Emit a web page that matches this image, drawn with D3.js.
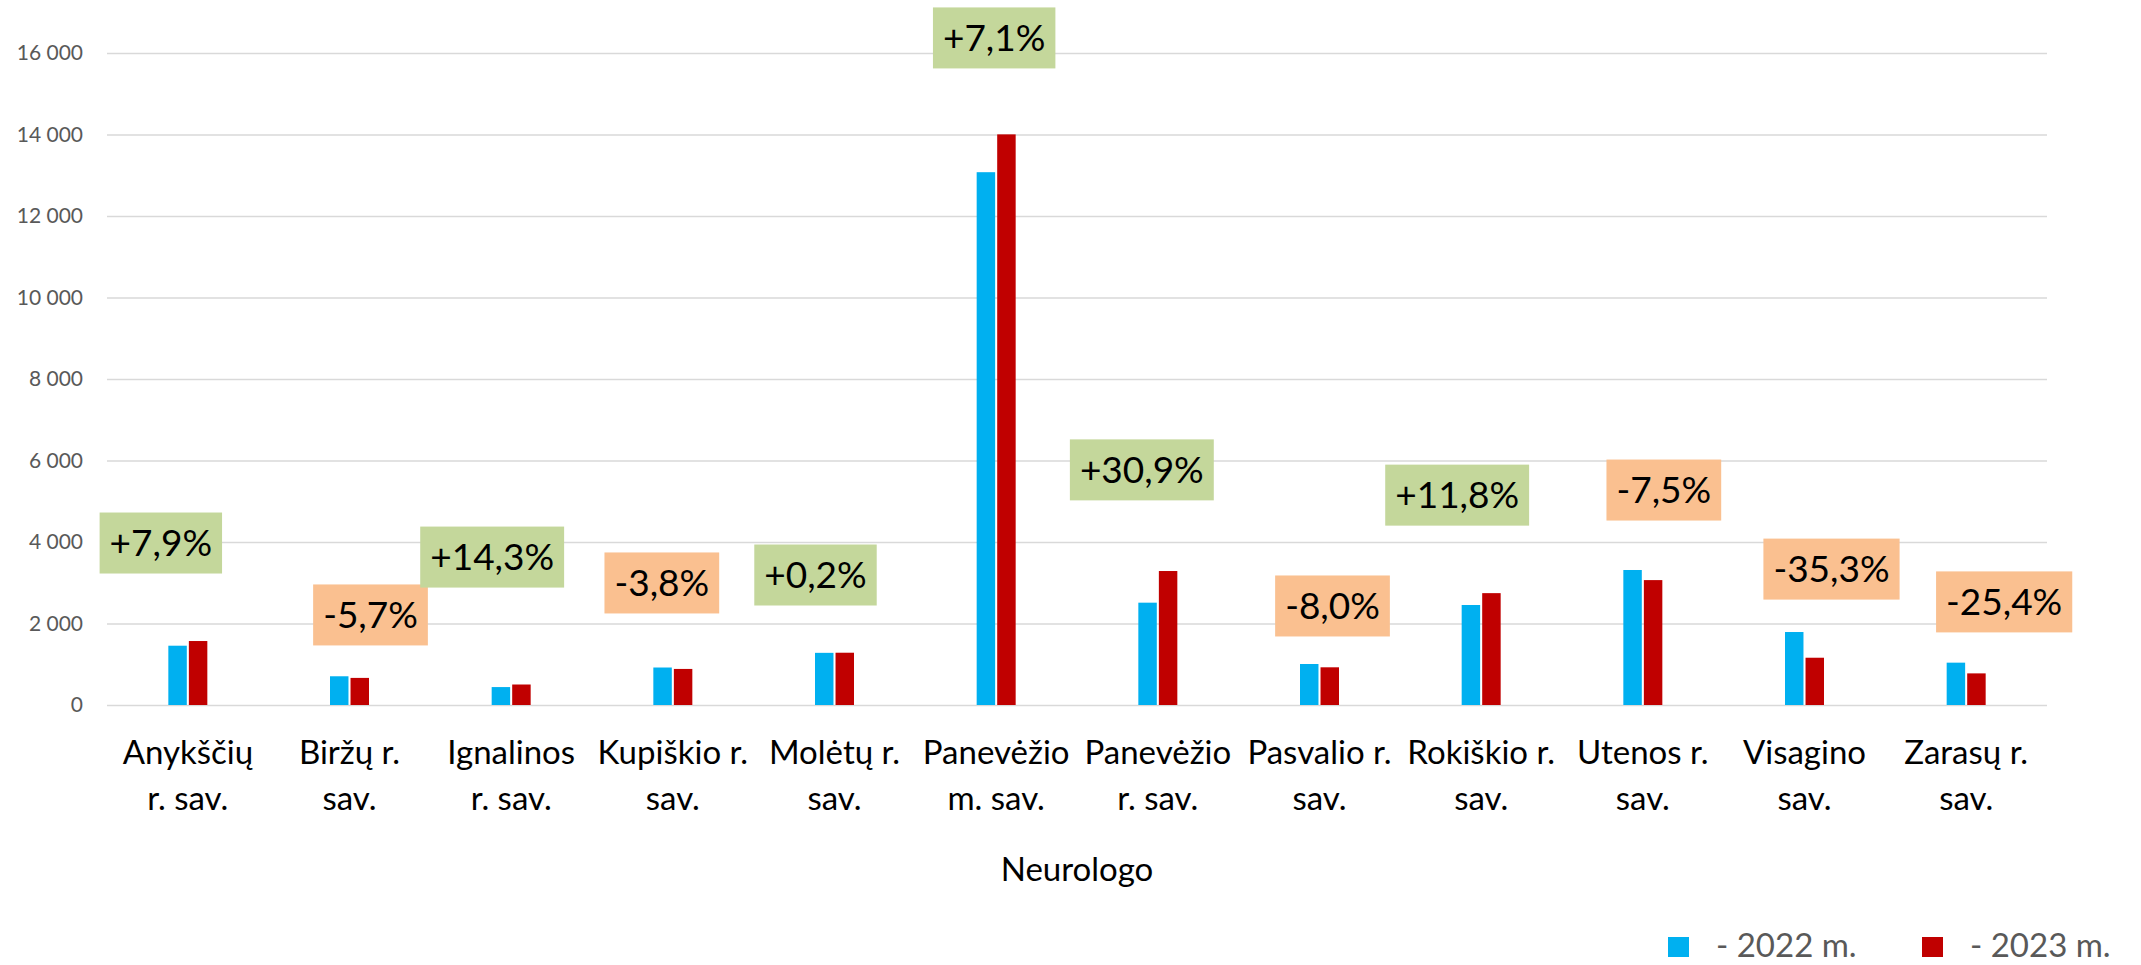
<!DOCTYPE html>
<html>
<head>
<meta charset="utf-8">
<script src="https://cdn.jsdelivr.net/npm/d3@7"></script>
<style>
  body { margin: 0; background: #fff; }
  text { font-family: Lato, "Open Sans", sans-serif; }
</style>
</head>
<body>
<div id="chart"></div>
<script>
// data
var categories = ["Anykščių\nr. sav.", "Biržų r.\nsav.", "Ignalinos\nr. sav.", "Kupiškio r.\nsav.",
  "Molėtų r.\nsav.", "Panevėžio\nm. sav.", "Panevėžio\nr. sav.", "Pasvalio r.\nsav.",
  "Rokiškio r.\nsav.", "Utenos r.\nsav.", "Visagino\nsav.", "Zarasų r.\nsav."];
var series = ["- 2022 m.", "- 2023 m."];
var values2022 = [1455, 705, 440, 920, 1280, 13075, 2511, 1006, 2454, 3313, 1791, 1039];
var values2023 = [1570, 665, 503, 885, 1283, 14003, 3288, 925, 2745, 3065, 1160, 776];
var changeLabels = ["+7,9%", "-5,7%", "+14,3%", "-3,8%", "+0,2%", "+7,1%", "+30,9%", "-8,0%",
  "+11,8%", "-7,5%", "-35,3%", "-25,4%"];
var yTicks = [0, 2000, 4000, 6000, 8000, 10000, 12000, 14000, 16000];
var axisTitle = "Neurologo";

// where the change boxes sit (px offset from category centre, value on y axis)
var boxDx = [-27, 21, -19, -11, -19, -2, -16, 13, -24, 21, 27, 38];
var boxValue = [3975, 2210, 3630, 2995, 3190, 16370, 5770, 2430, 5150, 5275, 3335, 2530];

var margin = { top: 53, left: 107, right: 94, bottom: 260 },
  width = 2141 - margin.left - margin.right,
  height = 965 - margin.top - margin.bottom;

var colors = ["#00b0f0", "#c00000"];

var svg = d3.select("#chart")
  .append("svg")
  .attr("width", 2141)
  .attr("height", 965)
  .append("g")
  .attr("transform", "translate(" + margin.left + "," + margin.top + ")");

var rows = categories.map(function(c, i) {
  return { cat: c, vals: [values2022[i], values2023[i]], label: changeLabels[i], i: i };
});

var xScale = d3.scaleBand()
  .domain(categories)
  .range([0, width]);

var xInner = d3.scaleBand()
  .domain(series)
  .range([-19.5, 19.5])
  .paddingInner(0.1);

var yScale = d3.scaleLinear()
  .domain([0, 16000])
  .range([height, 0]);

// gridlines
var grid = svg.append("g")
  .attr("class", "grid")
  .call(d3.axisLeft(yScale).tickValues(yTicks).tickSize(-width).tickFormat(""));
grid.select(".domain").remove();
grid.selectAll("line").attr("stroke", "#d9d9d9").attr("stroke-width", 1.5);

// y axis labels
var yAxis = d3.axisLeft(yScale)
  .tickValues(yTicks)
  .tickSize(0)
  .tickPadding(24)
  .tickFormat(function(d) { return d3.format(",")(d).replace(/,/g, " "); });
var yg = svg.append("g").attr("class", "axis y-axis").call(yAxis);
yg.select(".domain").remove();
yg.selectAll("text")
  .attr("font-size", 21)
  .attr("font-family", "Lato, sans-serif")
  .attr("fill", "#595959");

// bars
var groups = svg.selectAll(".cat")
  .data(rows)
  .enter().append("g")
  .attr("class", "cat")
  .attr("transform", function(d) { return "translate(" + (xScale(d.cat) + xScale.bandwidth() / 2) + ",0)"; });

groups.selectAll("rect")
  .data(function(d) { return d.vals.map(function(v, j) { return { v: v, s: series[j], j: j }; }); })
  .enter().append("rect")
  .attr("x", function(d) { return xInner(d.s); })
  .attr("width", xInner.bandwidth())
  .attr("y", function(d) { return yScale(d.v); })
  .attr("height", function(d) { return height - yScale(d.v); })
  .attr("fill", function(d) { return colors[d.j]; });

// x axis labels
var xAxis = d3.axisBottom(xScale).tickSize(0).tickFormat("");
var xg = svg.append("g")
  .attr("class", "axis x-axis")
  .attr("transform", "translate(0," + height + ")")
  .call(xAxis);
xg.select(".domain").remove();
xg.selectAll(".tick").append("text")
  .attr("text-anchor", "middle")
  .attr("font-size", 33)
  .attr("fill", "#000")
  .selectAll("tspan")
  .data(function(d) { return d.split("\n"); })
  .enter().append("tspan")
  .attr("x", 0)
  .attr("y", function(d, i) { return 59 + i * 46; })
  .text(function(d) { return d; });

// axis title
svg.append("text")
  .attr("x", width / 2)
  .attr("y", height + 176)
  .attr("text-anchor", "middle")
  .attr("font-size", 33)
  .attr("fill", "#000")
  .text(axisTitle);

// change boxes
var boxes = svg.selectAll(".box")
  .data(rows)
  .enter().append("g")
  .attr("class", "box")
  .attr("transform", function(d) {
    return "translate(" + (xScale(d.cat) + xScale.bandwidth() / 2 + boxDx[d.i]) + "," + yScale(boxValue[d.i]) + ")";
  });

var boxRects = boxes.append("rect")
  .attr("fill", function(d) { return d.label.charAt(0) === "+" ? "#c4d79b" : "#fac090"; });

var boxTexts = boxes.append("text")
  .attr("text-anchor", "middle")
  .attr("dy", "0.36em")
  .attr("font-size", 37)
  .attr("fill", "#000")
  .text(function(d) { return d.label; });

boxTexts.each(function(d) {
  var w = this.getComputedTextLength() + 20;
  d3.select(this.parentNode).select("rect")
    .attr("x", -w / 2)
    .attr("y", -30.5)
    .attr("width", w)
    .attr("height", 61);
});

// legend
var legend = svg.append("g")
  .attr("class", "legend")
  .attr("transform", "translate(0," + (height + 242) + ")");

var legendX = [1561, 1815];
series.forEach(function(s, j) {
  var lg = legend.append("g").attr("transform", "translate(" + legendX[j] + ",0)");
  lg.append("rect")
    .attr("x", 0)
    .attr("y", -10)
    .attr("width", 21)
    .attr("height", 20)
    .attr("fill", colors[j]);
  lg.append("text")
    .attr("x", 48)
    .attr("y", 10)
    .attr("font-size", 33)
    .attr("fill", "#595959")
    .text(s);
});
</script>
</body>
</html>
